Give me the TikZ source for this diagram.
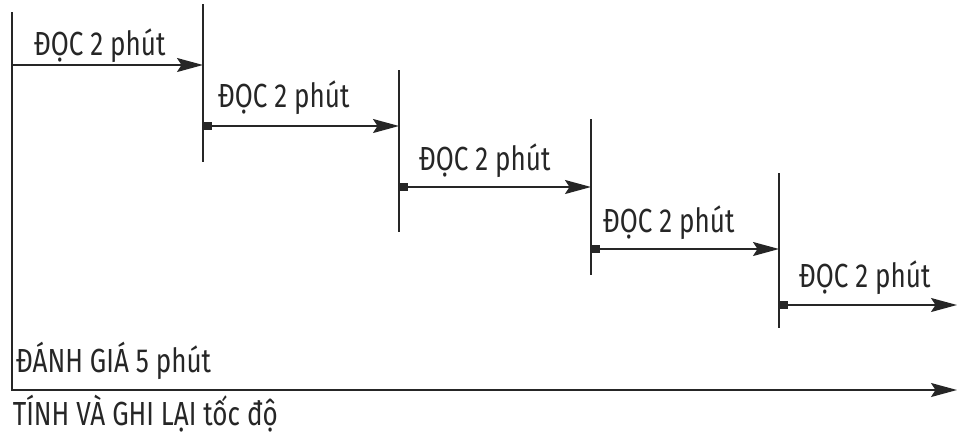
\documentclass[tikz,border=0pt]{standalone}
\usepackage{fontspec}
\setmainfont{Fira Sans}[FakeStretch=0.78]
\usetikzlibrary{arrows.meta}

\begin{document}
\begin{tikzpicture}[x=0.02cm, y=-0.02cm,
    line width=0.9pt, draw=black!85,
    flow/.style={-{Stealth[length=0.52cm, width=0.28cm, inset=0.09cm]}},
    lbl/.style={font=\fontsize{19}{21}\selectfont, text=black!85,
                anchor=base west, inner sep=0pt},
    tick/.style={fill=black!85, minimum size=0.16cm, inner sep=0pt, anchor=west}
]
\useasboundingbox (0,0) rectangle (958,437);

% Time marks: index / x / top / bottom
\coordinate (t0top) at (12,12);
\coordinate (t0bot) at (12,390);
\foreach \i/\x/\t/\b in {1/203/4/162, 2/399/70/232, 3/591/119/275, 4/779/173/328} {
    \coordinate (t\i top) at (\x,\t);
    \coordinate (t\i bot) at (\x,\b);
    \draw (t\i top) -- (t\i bot);
}

% Reading steps: index / start x / end x / arrow y / label x / label baseline
\foreach \i/\xa/\xb/\y/\lx/\ly in {1/12/203/65/33/55, 2/203/399/126/217/107,
        3/399/591/187/418/170, 4/591/779/249/602/232, 5/779/957/305/798/287} {
    \coordinate (s\i) at (\xa,\y);
    \coordinate (e\i) at (\xb,\y);
    \node[lbl] (read\i) at (\lx,\ly) {ĐỌC 2 phút};
    \ifnum\i>1
        \node[tick] (mark\i) at (s\i) {};
    \fi
    \draw[flow] (s\i) -- (e\i);
}

% Evaluation
\coordinate (tend) at (957,390);
\draw[flow] (t0top) -- (t0bot) -- (tend);
\node[lbl] (eval) at (15,372) {ĐÁNH GIÁ 5 phút};
\node[lbl] (rate) at (12,425) {TÍNH VÀ GHI LẠI tốc độ};

\end{tikzpicture}
\end{document}
